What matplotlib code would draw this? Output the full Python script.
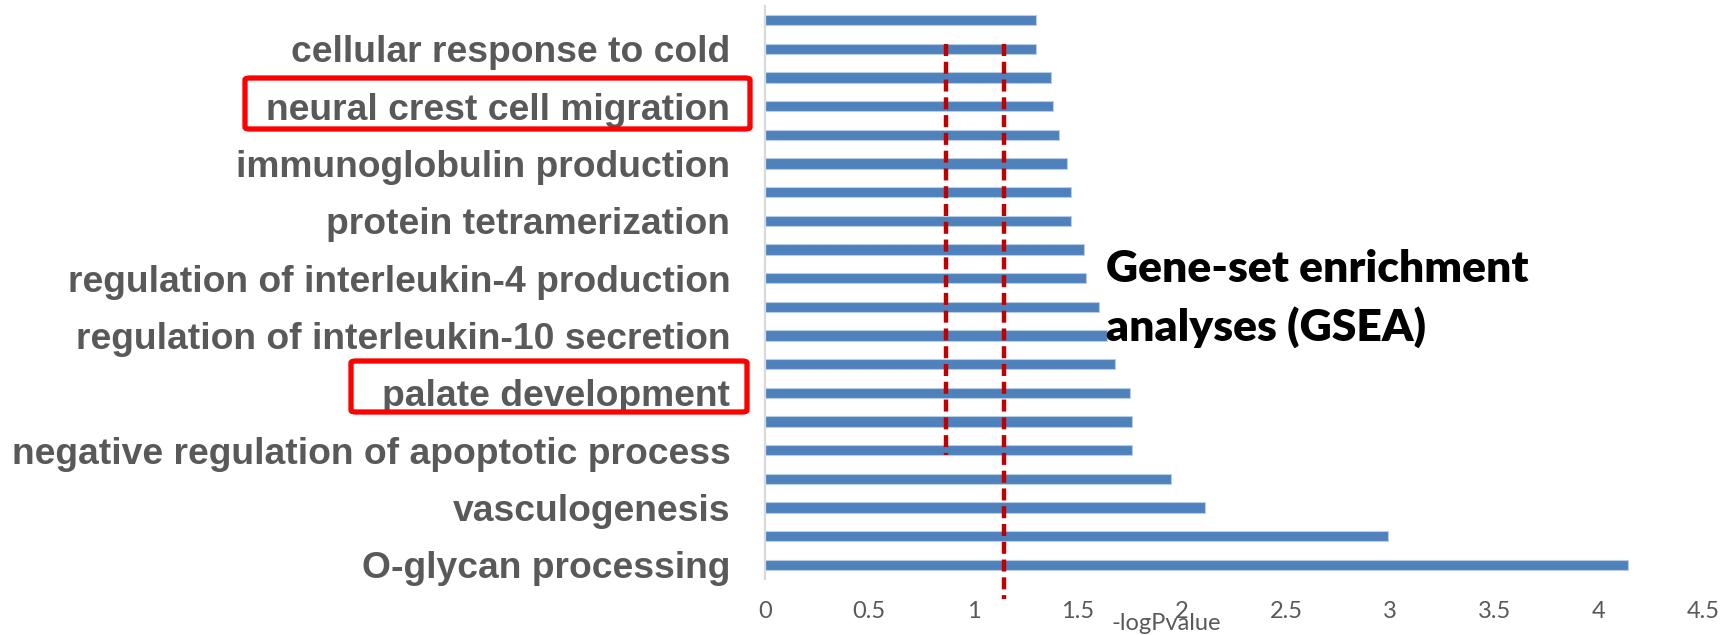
import matplotlib
matplotlib.use("Agg")
import matplotlib.pyplot as plt
from matplotlib.patches import FancyBboxPatch
import numpy as np

# bars listed top to bottom
values = [1.30, 1.30, 1.37, 1.38, 1.41, 1.45, 1.47, 1.47, 1.53, 1.54,
          1.60, 1.64, 1.68, 1.75, 1.76, 1.76, 1.95, 2.11, 2.99, 4.14]
# visible category labels (every second bar, top to bottom)
labels = ["cellular response to cold",
          "neural crest cell migration",
          "immunoglobulin production",
          "protein tetramerization",
          "regulation of interleukin-4 production",
          "regulation of interleukin-10 secretion",
          "palate development",
          "negative regulation of apoptotic process",
          "vasculogenesis",
          "O-glycan processing"]
xticks = [0, 0.5, 1, 1.5, 2, 2.5, 3, 3.5, 4, 4.5]
xtick_labels = ["0", "0.5", "1", "1.5", "2", "2.5", "3", "3.5", "4", "4.5"]
thresholds = [0.87, 1.146]

W, H = 1735, 635
fig = plt.figure(figsize=(W / 100, H / 100), dpi=100)
ax = fig.add_axes([765 / W, 1 - 579 / H, (1703 - 765) / W, (579 - 6) / H])

n = len(values)
ypos = np.arange(n)[::-1]  # top bar has highest position
ax.barh(ypos, values, height=0.36, color="#4F81BD", edgecolor="#B9CDE5",
        linewidth=0.8, zorder=2)

ax.set_xlim(0, 4.5)
ax.set_ylim(-0.5, n - 0.5)

# labels on every second bar
label_pos = [ypos[i] for i in range(1, n, 2)]
ax.set_yticks(label_pos)
ax.set_yticklabels(labels, fontsize=26.8, fontweight="bold", color="#595959",
                   family="Liberation Sans")
ax.tick_params(axis="y", length=0, pad=25)

ax.set_xticks(xticks)
ax.set_xticklabels(xtick_labels, fontsize=17, color="#595959", family="Lato")
ax.tick_params(axis="x", length=0, pad=16)

for s in ["top", "right", "bottom"]:
    ax.spines[s].set_visible(False)
ax.spines["left"].set_color("#D9D9D9")
ax.spines["left"].set_linewidth(1.6)

# threshold lines
dash = (0, (2.7, 1.3))
ax.plot([thresholds[0], thresholds[0]], [18.18, 3.82], color="#C00000",
        lw=3.2, linestyle=dash, zorder=3)
ax.plot([thresholds[1], thresholds[1]], [18.18, -1.19], color="#C00000",
        lw=3.2, linestyle=dash, zorder=3, clip_on=False)

fig.text(1166 / W, 1 - 623 / H, "-logPvalue", ha="center", va="center",
         fontsize=17, color="#595959", family="Lato")

fig.text(1106 / W, 1 - 249 / H, "Gene-set enrichment\nanalyses (GSEA)",
         ha="left", va="top", fontsize=32, fontweight="heavy", color="black",
         family="Lato", linespacing=1.5, zorder=5)

# red highlight boxes around labels
boxes = [(245, 78, 750, 129), (351, 361, 747, 412)]
for (x0, y0, x1, y1) in boxes:
    p = FancyBboxPatch((x0 / W, 1 - y1 / H), (x1 - x0) / W, (y1 - y0) / H,
                       boxstyle="round,pad=0,rounding_size=0.003",
                       transform=fig.transFigure, fill=False,
                       edgecolor="#FF0000", linewidth=3.8)
    fig.patches.append(p)

fig.savefig("out.png", dpi=100, facecolor="white")
